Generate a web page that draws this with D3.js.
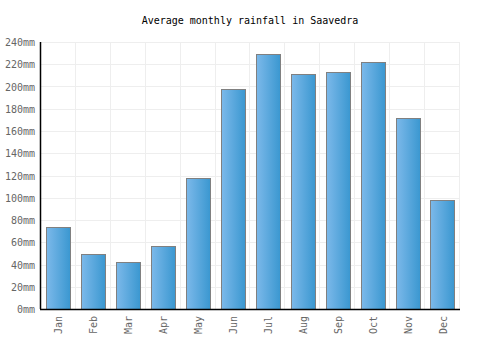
<!DOCTYPE html>
<html>
<head>
<meta charset="utf-8">
<script src="https://cdn.jsdelivr.net/npm/d3@7"></script>
<style>
  body { margin: 0; background: #fff; }
</style>
</head>
<body>
<svg width="500" height="350"></svg>
<script>
const months = ["Jan", "Feb", "Mar", "Apr", "May", "Jun", "Jul", "Aug", "Sep", "Oct", "Nov", "Dec"];
const rainfall = [74, 49, 42, 57, 118, 198, 229, 211, 213, 222, 172, 98];
const yTicks = [0, 20, 40, 60, 80, 100, 120, 140, 160, 180, 200, 220, 240];

const margin = { top: 42, right: 40, bottom: 41, left: 41 };
const width = 500, height = 350;
const innerW = width - margin.left - margin.right;
const innerH = height - margin.top - margin.bottom;
const font = "'DejaVu Sans Mono', monospace";

const svg = d3.select("svg").attr("font-family", font);

const defs = svg.append("defs");
const grad = defs.append("linearGradient").attr("id", "barGrad")
  .attr("x1", "0%").attr("x2", "100%").attr("y1", "0%").attr("y2", "0%");
grad.append("stop").attr("offset", "0%").attr("stop-color", "#7cb9ea");
grad.append("stop").attr("offset", "100%").attr("stop-color", "#3a97d0");

svg.append("text")
  .attr("x", width / 2)
  .attr("y", 24)
  .attr("text-anchor", "middle")
  .attr("font-size", 10)
  .attr("fill", "#000")
  .text("Average monthly rainfall in Saavedra");

const g = svg.append("g").attr("transform", `translate(${margin.left},${margin.top})`);

const x = d3.scaleBand().domain(months).range([0, innerW]).paddingInner(0.31).paddingOuter(0.155);
const xGrid = d3.scaleBand().domain(months).range([0, innerW]);
const y = d3.scaleLinear().domain([0, 240]).range([innerH, 0]);

// grid
g.append("g").selectAll("line")
  .data(yTicks)
  .join("line")
  .attr("x1", 0).attr("x2", innerW)
  .attr("y1", d => Math.round(y(d)) + 0.5).attr("y2", d => Math.round(y(d)) + 0.5)
  .attr("stroke", "#eeeeee");

g.append("g").selectAll("line")
  .data(months)
  .join("line")
  .attr("x1", d => Math.round(xGrid(d) + xGrid.bandwidth()) - 0.5)
  .attr("x2", d => Math.round(xGrid(d) + xGrid.bandwidth()) - 0.5)
  .attr("y1", 0).attr("y2", innerH)
  .attr("stroke", "#eeeeee");

// bars
g.append("g").selectAll("rect")
  .data(rainfall)
  .join("rect")
  .attr("x", (d, i) => Math.round(x(months[i])) + 0.5)
  .attr("y", d => Math.round(y(d)) + 0.5)
  .attr("width", Math.round(x.bandwidth()))
  .attr("height", d => innerH - Math.round(y(d)))
  .attr("fill", "url(#barGrad)")
  .attr("stroke", "#808080")
  .attr("stroke-width", 1);

// axes lines
g.append("line")
  .attr("x1", -0.5).attr("x2", -0.5).attr("y1", 0).attr("y2", innerH)
  .attr("stroke", "#000").attr("stroke-width", 1.5);
g.append("line")
  .attr("x1", -1).attr("x2", innerW).attr("y1", innerH + 0.5).attr("y2", innerH + 0.5)
  .attr("stroke", "#000").attr("stroke-width", 1.5);

// y labels
g.append("g").selectAll("text")
  .data(yTicks)
  .join("text")
  .attr("x", -6)
  .attr("y", d => y(d) + 4)
  .attr("text-anchor", "end")
  .attr("font-size", 10)
  .attr("fill", "#666")
  .text(d => d + "mm");

// x labels
g.append("g").selectAll("text")
  .data(months)
  .join("text")
  .attr("transform", d => `translate(${xGrid(d) + xGrid.bandwidth() / 2 + 4},${innerH + 7}) rotate(-90)`)
  .attr("text-anchor", "end")
  .attr("font-size", 10)
  .attr("fill", "#666")
  .text(d => d);
</script>
</body>
</html>
